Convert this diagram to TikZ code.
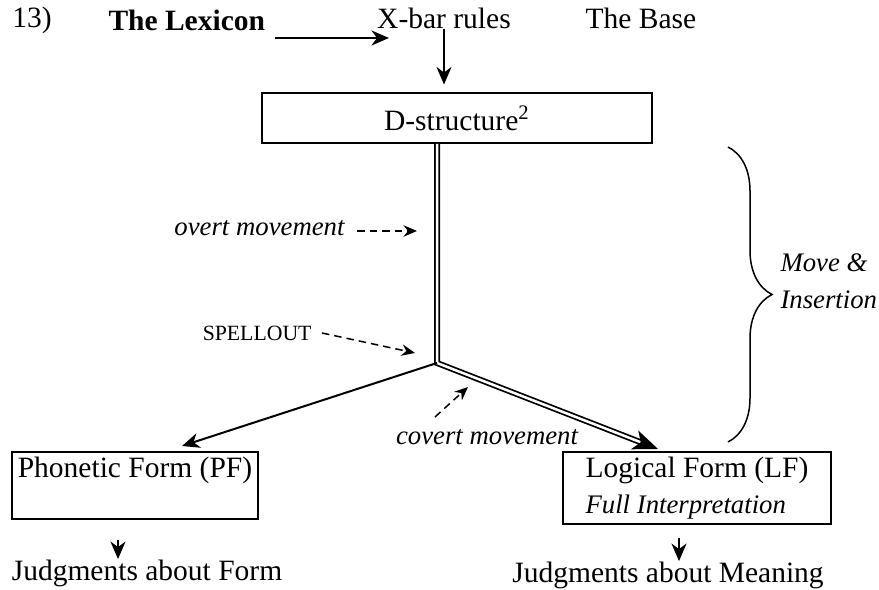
\documentclass[tikz,border=0pt]{standalone}
\usepackage{fontspec}
\setmainfont{Liberation Serif}
\usepackage{tikz}
\usetikzlibrary{positioning,arrows.meta,decorations.pathreplacing}

\newcommand{\itlabel}{\fontsize{10.7}{13}\selectfont\itshape}

\begin{document}
\begin{tikzpicture}[x=0.4pt, y=-0.4pt,
  font=\fontsize{11.8}{13.6}\selectfont,
  lbl/.style={inner sep=0pt},
  ital/.style={inner sep=0pt, font=\itlabel},
  box/.style={draw, line width=0.8pt, inner sep=0pt, align=left},
  arr/.style={-{Stealth[length=7pt, width=6pt, inset=2.2pt]}, line width=0.8pt},
  darr/.style={-{Stealth[length=5.4pt, width=4.6pt, inset=1.8pt]}, dash pattern=on 3pt off 2pt, line width=0.6pt},
  dbl/.style={double, double distance=1pt, line width=0.7pt}]
  \useasboundingbox (0,0) rectangle (879,590);
  % top row
  \node[lbl, anchor=west] (num) at (12,20) {13)};
  \node[lbl, anchor=west] (lex) at (108,20) {\bfseries The Lexicon};
  \node[lbl] (xbar) at (444,18) {X-bar rules};
  \node[lbl] (base) at (641,18) {The Base};
  \coordinate (lexout) at (275,38);
  \coordinate (xbarin) at (389,38);
  \draw[arr] (lexout) -- (xbarin);
  % levels
  \node[box, minimum width=156pt, minimum height=20pt] (ds) at (457,118) {D-structure\textsuperscript{2}};
  \node[box, minimum width=98.4pt, minimum height=26.8pt] (pf) at (135,485.5) {Phonetic Form (PF)\\[1pt] \mbox{}};
  \node[box, minimum width=107.2pt, minimum height=28.8pt] (lf) at (697,488) {Logical Form (LF)\\[1pt] \itlabel Full Interpretation};
  \node[lbl] (jf) at (147,573) {Judgments about Form};
  \node[lbl] (jm) at (668,575) {Judgments about Meaning};
  \coordinate (jct) at (437,363);
  \coordinate (pfin) at (182,446);
  \coordinate (lfin) at (658,449);
  \draw[arr, shorten >=3pt] (xbar.south) -- (xbar.south |- ds.north);
  \draw[dbl, -{Stealth[length=10pt, width=8pt, inset=2.6pt]}] (ds.south -| jct) -- (jct) -- (lfin);
  \draw[arr] (jct) -- (pfin);
  \coordinate (pfout) at (118,540);
  \coordinate (lfout) at (679,538);
  \draw[arr] (pfout) -- (pfout |- jf.north);
  \draw[arr] (lfout) -- (lfout |- jm.north);
  % movement labels
  \node[ital, anchor=east] (ovm) at (345,228) {overt movement};
  \draw[darr] ([xshift=4.8pt, yshift=-1.2pt]ovm.east) -- ++(60,0);
  \node[lbl, anchor=east] (spo) at (312,333) {\fontsize{8.7}{10}\selectfont SPELLOUT};
  \draw[darr] ([xshift=4pt]spo.east) -- ++(93,20);
  \node[ital] (cov) at (487,437) {covert movement};
  \coordinate (covbase) at (435,417);
  \draw[darr] (covbase) -- ++(33,-30);
  % brace
  \draw[line width=0.6pt, decorate, decoration={brace, amplitude=17.6pt}] (728,147) -- (728,442);
  \node[ital, anchor=west, align=left] (mi) at (780,281) {Move \&\\[2pt] Insertion};
\end{tikzpicture}
\end{document}
